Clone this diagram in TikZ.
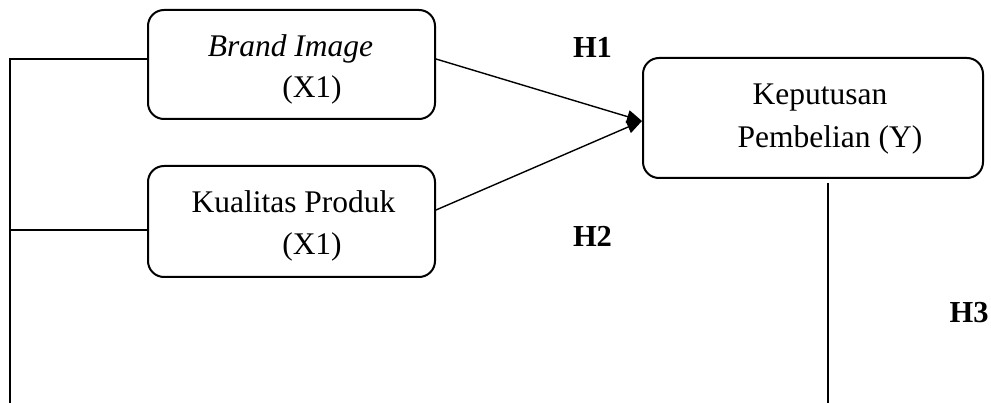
\documentclass[tikz,border=0pt]{standalone}
\usepackage{fontspec}
\setmainfont{Liberation Serif}
\usetikzlibrary{arrows.meta}
\tikzset{
  box/.style={draw=black, line width=2pt, rounded corners=16pt, inner sep=0pt},
  lab/.style={anchor=base, inner sep=0pt, font=\fontsize{31.5}{40}\selectfont},
  hyp/.style={anchor=base, inner sep=0pt, font=\fontsize{30.5}{36}\selectfont\bfseries},
  conn/.style={line width=1.4pt},
  arr/.style={line width=1.4pt, -{Triangle[length=15pt,width=13pt]}}
}
\begin{document}
\begin{tikzpicture}[x=1pt,y=-1pt]
\useasboundingbox (0,0) rectangle (991,403);
% boxes
\node[box, minimum width=287pt, minimum height=109pt] (b1) at (291.5,64.5) {};
\node[box, minimum width=287pt, minimum height=111pt] (b2) at (291.5,221.5) {};
\node[box, minimum width=340pt, minimum height=120pt] (b3) at (813,118) {};
% box texts
\node[lab] (t1a) at (290.5,57) {\textit{Brand Image}};
\node[lab] (t1b) at (312,98) {(X1)};
\node[lab] (t2a) at (293.5,213) {Kualitas Produk};
\node[lab] (t2b) at (312,255) {(X1)};
\node[lab] (t3a) at (820,105) {Keputusan};
\node[lab] (t3b) at (830,148) {Pembelian (Y)};
% hypotheses
\node[hyp] (h1) at (592.5,58) {H1};
\node[hyp] (h2) at (592.5,247) {H2};
\node[hyp] (h3) at (969,323) {H3};
% coordinates
\coordinate (l1) at (10,59);
\coordinate (l2) at (10,230);
\coordinate (lb) at (10,403);
\coordinate (s1) at (436,59);
\coordinate (s2) at (436,210);
\coordinate (tip) at (642,121);
\coordinate (r1) at (828,183);
\coordinate (r2) at (828,403);
% connectors
\draw[conn] (lb) -- (l1) -- (b1.west |- l1);
\draw[conn] (l2) -- (b2.west |- l2);
\draw[arr] (s1) -- (tip);
\draw[arr] (s2) -- (tip);
\draw[conn] (r1) -- (r2);
\end{tikzpicture}
\end{document}
